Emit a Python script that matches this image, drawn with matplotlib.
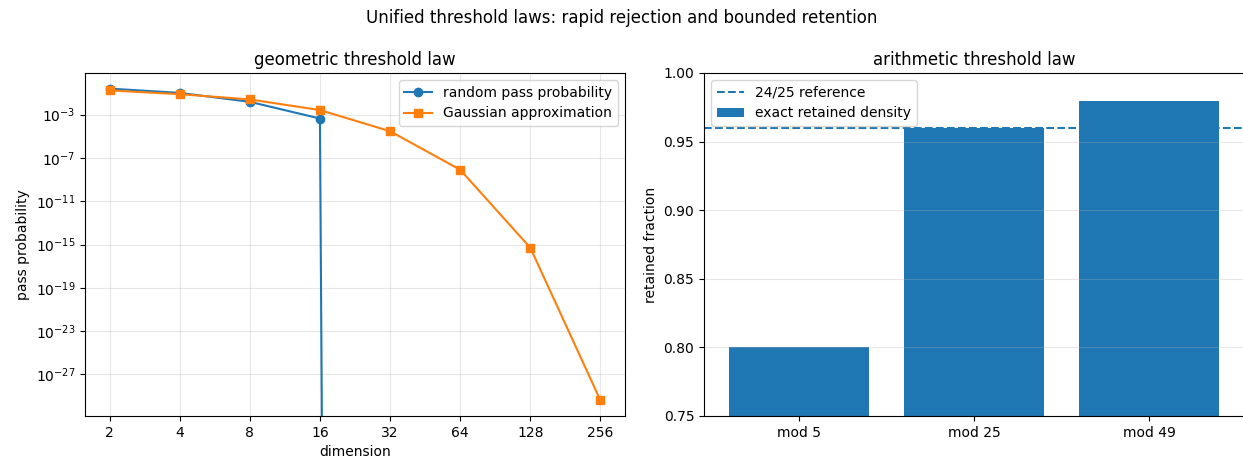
import matplotlib
matplotlib.use("Agg")
import matplotlib.pyplot as plt

# ── Data ─────────────────────────────────────────────────────────────────────
dimensions = [2, 4, 8, 16, 32, 64, 128, 256]
random_pass = [0.25, 0.1, 0.015, 4.3e-4, 0.0, 0.0, 0.0, 0.0]
gaussian_approx = [0.17, 0.076, 0.025, 2.6e-3, 2.9e-5, 8e-9, 5e-16, 4e-30]

moduli = ["mod 5", "mod 25", "mod 49"]
retained = [4 / 5, 24 / 25, 48 / 49]
reference_level = 24 / 25

# ── Figure ───────────────────────────────────────────────────────────────────
fig = plt.figure(figsize=(12.43, 4.58), dpi=100)
ax1 = fig.add_axes([85 / 1243, 42 / 458, 540 / 1243, 343 / 458])
ax2 = fig.add_axes([704 / 1243, 42 / 458, 540 / 1243, 343 / 458])

# geometric panel
ax1.plot(dimensions, random_pass, marker="o", label="random pass probability")
ax1.plot(dimensions, gaussian_approx, marker="s", label="Gaussian approximation")
ax1.set_xscale("log", base=2)
ax1.set_yscale("log")
ax1.set_xticks(dimensions)
ax1.set_xticklabels([str(d) for d in dimensions])
ax1.set_xlabel("dimension")
ax1.set_ylabel("pass probability")
ax1.set_title("geometric threshold law")
ax1.grid(True, alpha=0.3)
ax1.legend(loc="upper right")

# arithmetic panel
ax2.bar(moduli, retained, label="exact retained density")
ax2.axhline(reference_level, linestyle="--", label="24/25 reference")
ax2.set_ylim(0.75, 1.0)
ax2.set_ylabel("retained fraction")
ax2.set_title("arithmetic threshold law")
ax2.grid(True, axis="y", alpha=0.3)
ax2.legend(loc="upper left")

fig.suptitle("Unified threshold laws: rapid rejection and bounded retention")

fig.savefig("out.png", dpi=100)
